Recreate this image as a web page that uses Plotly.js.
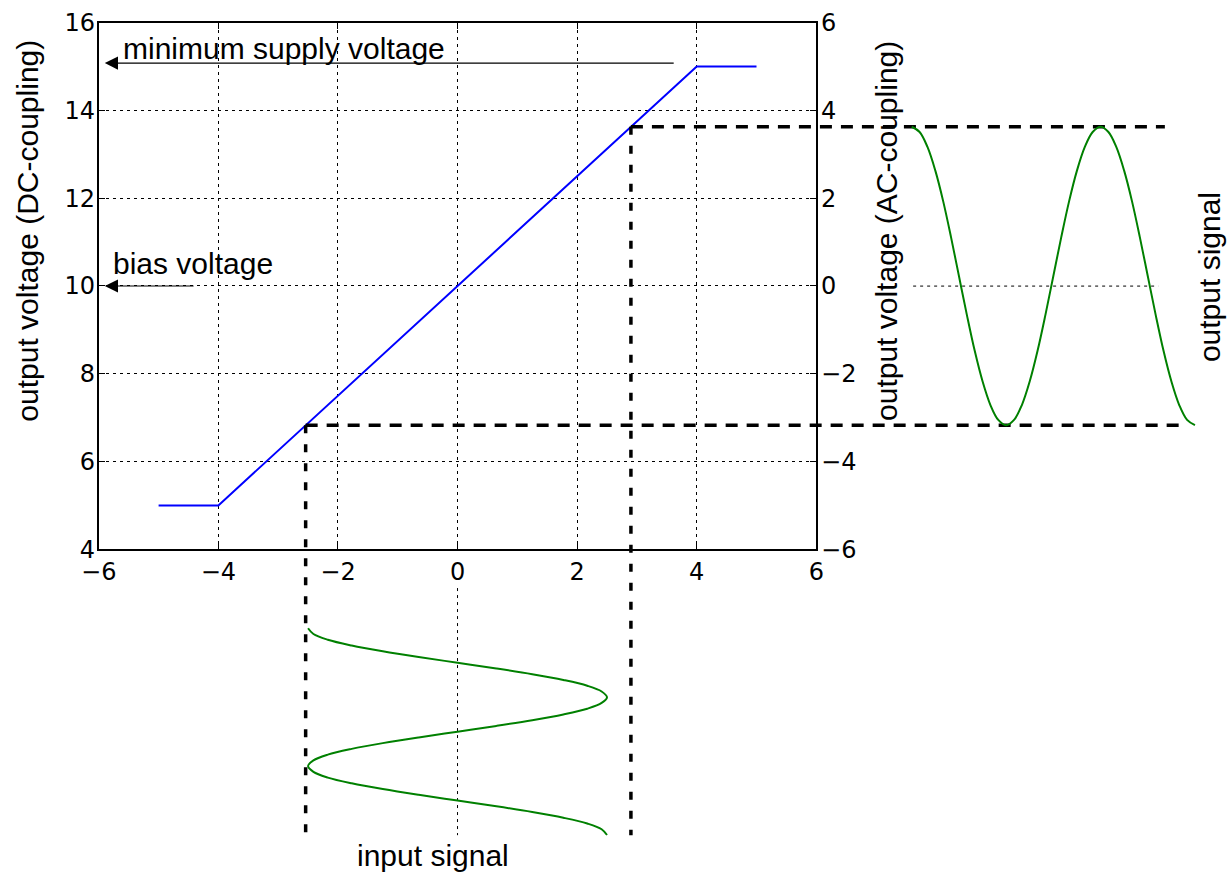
<!DOCTYPE html>
<html>
<head>
<meta charset="utf-8">
<script src="https://cdn.plot.ly/plotly-3.0.1.min.js"></script>
<style>
  html, body { margin: 0; padding: 0; background: #ffffff; }
  #chart { width: 1228px; height: 873px; }
</style>
</head>
<body>
<div id="chart"></div>
<script>
// ---------- data ----------
// transfer characteristic (input voltage -> DC-coupled output voltage)
const transferX = [-5, -4, 4, 5];
const transferY = [5, 5, 15, 15];

// axis ticks
const inputTicks = [-6, -4, -2, 0, 2, 4, 6];
const dcTicks = [4, 6, 8, 10, 12, 14, 16];
const acTicks = [-6, -4, -2, 0, 2, 4, 6];

// signal phase (in periods), shared by input and output signals
const signalPhase = [0, 0.0417, 0.0833, 0.125, 0.1667, 0.2083, 0.25, 0.2917, 0.3333,
  0.375, 0.4167, 0.4583, 0.5, 0.5417, 0.5833, 0.625, 0.6667, 0.7083, 0.75,
  0.7917, 0.8333, 0.875, 0.9167, 0.9583, 1, 1.0417, 1.0833, 1.125, 1.1667,
  1.2083, 1.25, 1.2917, 1.3333, 1.375, 1.4167, 1.4583, 1.5];
// input signal (input voltage), drawn downwards below the x axis
const inputSignal = [-2.5, -2.41, -2.17, -1.77, -1.25, -0.65, 0, 0.65, 1.25,
  1.77, 2.17, 2.41, 2.5, 2.41, 2.17, 1.77, 1.25, 0.65, 0,
  -0.65, -1.25, -1.77, -2.17, -2.41, -2.5, -2.41, -2.17, -1.77, -1.25,
  -0.65, 0, 0.65, 1.25, 1.77, 2.17, 2.41, 2.5];
// output signal (AC-coupled output voltage), drawn to the right
const outputSignal = [3.63, 3.51, 3.17, 2.63, 1.93, 1.11, 0.23, -0.65, -1.47,
  -2.17, -2.71, -3.05, -3.17, -3.05, -2.71, -2.17, -1.47, -0.65, 0.23,
  1.11, 1.93, 2.63, 3.17, 3.51, 3.63, 3.51, 3.17, 2.63, 1.93,
  1.11, 0.23, -0.65, -1.47, -2.17, -2.71, -3.05, -3.17];

// operating-point markers (input voltage, DC output voltage)
const lowMarkX = -2.54, lowMarkY = 6.83;
const highMarkX = 2.9, highMarkY = 13.63;
const biasVoltage = 10;
const supplyVoltage = 15.08;

// ---------- figure ----------
const TICKFONT = 'DejaVu Sans';
const TEXTFONT = 'Liberation Sans';
const black = '#000000';

const traces = [
  { // transfer curve
    x: transferX, y: transferY, xaxis: 'x', yaxis: 'y',
    mode: 'lines', line: { color: '#0000ff', width: 2 }, hoverinfo: 'skip'
  },
  { // empty trace so the AC-coupling axis is drawn
    x: [], y: [], xaxis: 'x', yaxis: 'y2', mode: 'lines', hoverinfo: 'skip'
  },
  { // lower horizontal dashed
    x: [lowMarkX, 12.08], y: [lowMarkY, lowMarkY], xaxis: 'x3', yaxis: 'y3',
    mode: 'lines', line: { color: black, width: 3.5, dash: '12px,9px' }, hoverinfo: 'skip'
  },
  { // upper horizontal dashed
    x: [highMarkX, 11.83], y: [highMarkY, highMarkY], xaxis: 'x3', yaxis: 'y3',
    mode: 'lines', line: { color: black, width: 3.5, dash: '12px,9px' }, hoverinfo: 'skip'
  },
  { // left vertical dashed
    x: [lowMarkX, lowMarkX], y: [lowMarkY, -2.51], xaxis: 'x3', yaxis: 'y3',
    mode: 'lines', line: { color: black, width: 3.5, dash: '8px,11px' }, hoverinfo: 'skip'
  },
  { // right vertical dashed
    x: [highMarkX, highMarkX], y: [highMarkY, -2.51], xaxis: 'x3', yaxis: 'y3',
    mode: 'lines', line: { color: black, width: 3.5, dash: '8px,11px' }, hoverinfo: 'skip'
  },
  { // zero line under input signal
    x: [0, 0], y: [3.12, -2.51], xaxis: 'x3', yaxis: 'y3',
    mode: 'lines', line: { color: black, width: 1, dash: '3px,4px' }, hoverinfo: 'skip'
  },
  { // zero line behind output signal
    x: [7.62, 11.72], y: [biasVoltage, biasVoltage], xaxis: 'x3', yaxis: 'y3',
    mode: 'lines', line: { color: black, width: 1, dash: '3px,4px' }, hoverinfo: 'skip'
  },
  { // input signal
    x: inputSignal, y: signalPhase, xaxis: 'x3', yaxis: 'y5',
    mode: 'lines', line: { color: '#008000', width: 2, shape: 'spline', smoothing: 1 }, hoverinfo: 'skip'
  },
  { // output signal
    x: signalPhase, y: outputSignal, xaxis: 'x4', yaxis: 'y4',
    mode: 'lines', line: { color: '#008000', width: 2, shape: 'spline', smoothing: 1 }, hoverinfo: 'skip'
  }
];

const tickFont = { family: TICKFONT, size: 24, color: black };
const textFont = { family: TEXTFONT, size: 30, color: black };
const hidden = { visible: false, showgrid: false, zeroline: false, fixedrange: true };

const layout = {
  width: 1228, height: 873, autosize: false,
  margin: { l: 0, r: 0, t: 0, b: 0, pad: 0 },
  paper_bgcolor: '#ffffff', plot_bgcolor: 'rgba(0,0,0,0)',
  showlegend: false,
  font: { family: TICKFONT, color: black },
  xaxis: {
    domain: [0.08046, 0.66474], range: [-6, 6], anchor: 'y',
    tickvals: inputTicks, ticks: 'inside', ticklen: 6, tickwidth: 1, tickcolor: black,
    showline: true, linewidth: 2, linecolor: black, mirror: 'ticks',
    showgrid: true, gridcolor: black, gridwidth: 1, griddash: '3px,4px',
    zeroline: false, tickfont: tickFont, ticklabelstandoff: 0
  },
  yaxis: {
    domain: [0.37079, 0.97400], range: [4, 16], anchor: 'x',
    tickvals: dcTicks, ticks: 'inside', ticklen: 6, tickwidth: 1, tickcolor: black,
    showline: true, linewidth: 2, linecolor: black, mirror: false,
    showgrid: true, gridcolor: black, gridwidth: 1, griddash: '3px,4px',
    zeroline: false, tickfont: tickFont, ticklabelstandoff: -3
  },
  yaxis2: {
    overlaying: 'y', side: 'right', anchor: 'x', range: [-6, 6],
    tickvals: acTicks, ticks: 'inside', ticklen: 6, tickwidth: 1, tickcolor: black,
    showline: true, linewidth: 2, linecolor: black,
    showgrid: false, zeroline: false, tickfont: tickFont, ticklabelstandoff: -2
  },
  // full-page helper axes in input-voltage / DC-voltage units
  xaxis3: Object.assign({ domain: [0, 1], range: [-7.652, 12.886], anchor: 'y3' }, hidden),
  yaxis3: Object.assign({ domain: [0, 1], range: [-3.372, 16.518], anchor: 'x3' }, hidden),
  // output signal axes (phase, AC voltage)
  xaxis4: Object.assign({ domain: [0.73477, 0.98078], range: [-0.05, 1.55], anchor: 'y4' }, hidden),
  yaxis4: Object.assign({ domain: [0, 1], range: [-13.372, 6.518], anchor: 'x4' }, hidden),
  // input signal phase axis (downwards)
  yaxis5: Object.assign({ domain: [0.03562, 0.28820], range: [1.55, -0.05], anchor: 'x3' }, hidden),
  annotations: [
    { text: 'output voltage (DC-coupling)', xref: 'paper', yref: 'paper', x: 0.0225, y: 0.7354,
      textangle: -90, showarrow: false, xanchor: 'center', yanchor: 'middle', font: textFont },
    { text: 'output voltage (AC-coupling)', xref: 'paper', yref: 'paper', x: 0.7223, y: 0.7354,
      textangle: -90, showarrow: false, xanchor: 'center', yanchor: 'middle', font: textFont },
    { text: 'output signal', xref: 'paper', yref: 'paper', x: 0.9846, y: 0.6827,
      textangle: -90, showarrow: false, xanchor: 'center', yanchor: 'middle', font: textFont },
    { text: 'input signal', xref: 'paper', yref: 'paper', x: 0.3526, y: 0.0206,
      showarrow: false, xanchor: 'center', yanchor: 'middle', font: textFont },
    { text: 'minimum supply voltage', xref: 'paper', yref: 'paper', x: 0.0985, y: 0.9439,
      showarrow: false, xanchor: 'left', yanchor: 'middle', font: textFont },
    { text: 'bias voltage', xref: 'paper', yref: 'paper', x: 0.0904, y: 0.6976,
      showarrow: false, xanchor: 'left', yanchor: 'middle', font: textFont },
    { text: '', xref: 'x', yref: 'y', axref: 'x', ayref: 'y',
      x: -5.9, y: supplyVoltage, ax: 3.64, ay: supplyVoltage,
      showarrow: true, arrowhead: 2, arrowsize: 2.2, arrowwidth: 1.2, arrowcolor: black, standoff: 0 },
    { text: '', xref: 'x', yref: 'y', axref: 'x', ayref: 'y',
      x: -5.9, y: biasVoltage, ax: -4.39, ay: biasVoltage,
      showarrow: true, arrowhead: 2, arrowsize: 2.2, arrowwidth: 1.2, arrowcolor: black, standoff: 0 }
  ]
};

Plotly.newPlot('chart', traces, layout, { staticPlot: true, displayModeBar: false });
</script>
</body>
</html>
